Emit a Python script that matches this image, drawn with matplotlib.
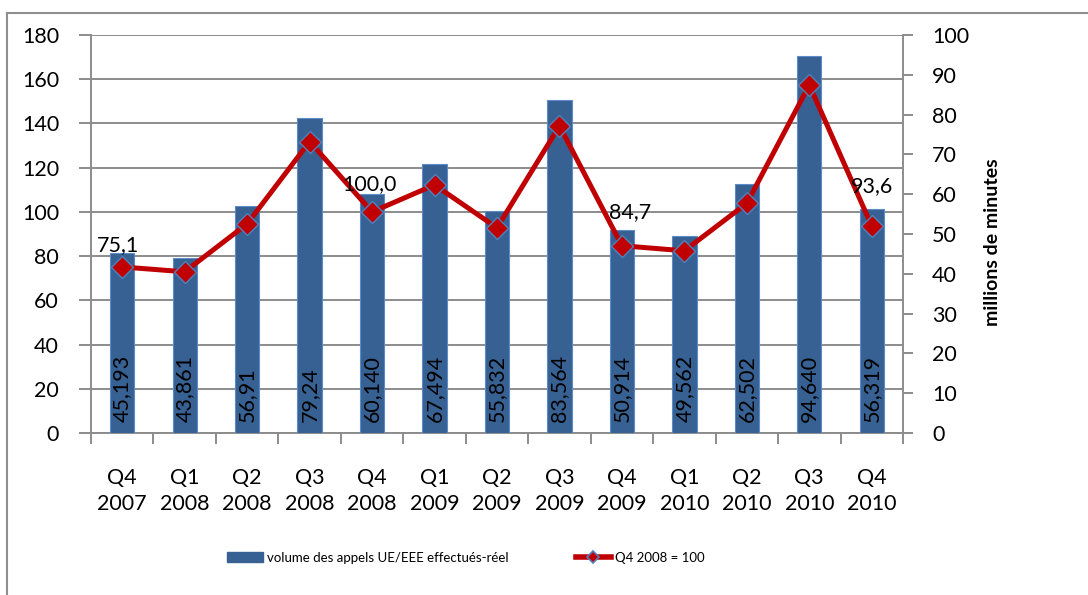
import numpy as np
import matplotlib
matplotlib.use("Agg")
import matplotlib.pyplot as plt
from matplotlib.lines import Line2D
from matplotlib.patches import Patch

plt.rcParams["font.family"] = ["Lato", "DejaVu Sans"]

# Quarterly volumes (millions of minutes) and index (Q4 2008 = 100)
quarters = ["Q4\n2007", "Q1\n2008", "Q2\n2008", "Q3\n2008", "Q4\n2008", "Q1\n2009",
            "Q2\n2009", "Q3\n2009", "Q4\n2009", "Q1\n2010", "Q2\n2010", "Q3\n2010",
            "Q4\n2010"]
volume_labels = ["45,193", "43,861", "56,91", "79,24", "60,140", "67,494", "55,832",
                 "83,564", "50,914", "49,562", "62,502", "94,640", "56,319"]
volumes = [float(s.replace(",", ".")) for s in volume_labels]
index_values = [75.1, 72.9, 94.6, 131.8, 100.0, 112.2, 92.8, 138.9, 84.7, 82.4,
                103.9, 157.4, 93.6]
labelled_points = [0, 4, 8, 12]

BAR_COLOR = "#376192"
BAR_EDGE = "#5B8BC9"
LINE_COLOR = "#C00000"
MARKER_EDGE = "#4F81BD"
GRID = "#8C8C8C"

W, H = 1088, 595
fig = plt.figure(figsize=(W / 100, H / 100), dpi=100)

# outer chart frame (top and left edges visible)
fig.add_artist(Line2D([7 / W, 1.0], [1 - 13 / H, 1 - 13 / H], transform=fig.transFigure,
                      color="#8E8E8E", lw=1.5))
fig.add_artist(Line2D([7 / W, 7 / W], [0, 1 - 13 / H], transform=fig.transFigure,
                      color="#8E8E8E", lw=1.5))

rect = [91 / W, 1 - 433 / H, (903 - 91) / W, (433 - 35) / H]
ax = fig.add_axes(rect)
x = np.arange(len(quarters))

# left axis: index scale with horizontal gridlines
ax.set_ylim(0, 180)
ax.set_xlim(-0.5, len(quarters) - 0.5)
ax.set_yticks(np.arange(0, 181, 20))
ax.yaxis.grid(True, color=GRID, lw=1.4)
ax.set_axisbelow(True)
ax.set_xticks(x)
ax.set_xticklabels(quarters, fontsize=15.5, linespacing=1.42)
ax.set_xticks(np.arange(-0.5, len(quarters)), minor=True)
ax.tick_params(axis="x", which="major", length=0, pad=25)
ax.tick_params(axis="x", which="minor", length=8, color=GRID, width=1.4)
ax.tick_params(axis="y", length=9, color=GRID, width=1.4, labelsize=15.5, pad=14)
for side in ["top", "right"]:
    ax.spines[side].set_visible(False)
for side in ["left", "bottom"]:
    ax.spines[side].set_color(GRID)
    ax.spines[side].set_linewidth(1.4)

# right axis: volume bars
ax2 = ax.twinx()
ax2.set_ylim(0, 100)
ax2.set_yticks(np.arange(0, 101, 10))
ax2.tick_params(axis="y", length=7, color=GRID, width=1.4, labelsize=15.5, pad=14)
for side in ["top", "left", "bottom"]:
    ax2.spines[side].set_visible(False)
ax2.spines["right"].set_color(GRID)
ax2.spines["right"].set_linewidth(1.4)
ax2.bar(x, volumes, width=0.39, color=BAR_COLOR, edgecolor=BAR_EDGE, linewidth=0.8)
for xi, lab in zip(x, volume_labels):
    ax2.annotate(lab, (xi, 0), xytext=(0, 8), textcoords="offset points",
                 rotation=90, ha="center", va="bottom", fontsize=15.5)

# top layer: index line sharing the left scale
ax3 = fig.add_axes(rect, sharex=ax, sharey=ax)
ax3.set_axis_off()
ax3.plot(x, index_values, color=LINE_COLOR, lw=3.6, marker="D", markersize=11,
         markerfacecolor=LINE_COLOR, markeredgecolor=MARKER_EDGE, markeredgewidth=1.0,
         solid_joinstyle="round")
label_offsets = {0: (-3, 16), 4: (-2, 20), 8: (6, 24), 12: (0, 29)}
for i in labelled_points:
    dx, dy = label_offsets[i]
    ax3.annotate(f"{index_values[i]:.1f}".replace(".", ","), (x[i], index_values[i]),
                 xytext=(dx, dy), textcoords="offset points",
                 ha="center", va="center", fontsize=15.5)

fig.text(993 / W, 1 - 242 / H, "millions de minutes", rotation=90, ha="center",
         va="center", fontsize=14, fontweight="bold")

handles = [
    Patch(facecolor=BAR_COLOR, edgecolor=BAR_COLOR),
    Line2D([], [], color=LINE_COLOR, lw=4, marker="D", markersize=6,
           markerfacecolor=LINE_COLOR, markeredgecolor=MARKER_EDGE, markeredgewidth=1.2),
]
fig.legend(handles, ["volume des appels UE/EEE effectués-réel", "Q4 2008 = 100"],
           loc="center", bbox_to_anchor=(466 / W, 1 - 558 / H), ncol=2, frameon=False,
           fontsize=9.5, handlelength=2.7, handleheight=0.8, handletextpad=0.3,
           columnspacing=5.1)

fig.savefig("out.png", dpi=100)
